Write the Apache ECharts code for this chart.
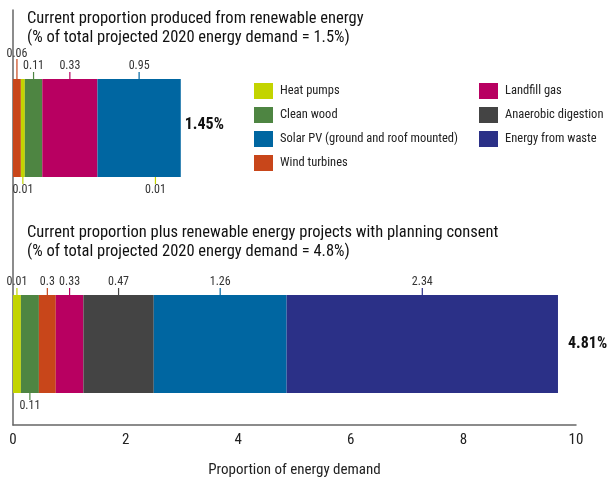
<!DOCTYPE html>
<html>
<head>
<meta charset="utf-8">
<script src="https://cdn.jsdelivr.net/npm/echarts@6/dist/echarts.min.js"></script>
<style>
html,body{margin:0;padding:0;background:#fff;}
#chart{width:607px;height:479px;}
</style>
</head>
<body>
<div id="chart"></div>
<script>
// ---- data ----
const barCategories = ['Current', '', '', '', 'With planning consent', ''];
const bar1Index = 0;
const bar2Index = 4;

// Bar 1: segments left to right, drawn lengths and printed labels
const bar1Sources = ['Wind turbines', 'Heat pumps', 'Clean wood', 'Landfill gas', 'Solar PV (ground and roof mounted)'];
const bar1Lengths = [0.14, 0.07, 0.31, 0.98, 1.48];
const bar1Labels  = ['0.06', '0.01', '0.11', '0.33', '0.95'];
const bar1LabelSide = [1, -1, 1, 1, 1];     // 1 above, -1 below
const bar1LabelRaised = [1, 0, 0, 0, 0];
const bar1ExtraLabel = {text: '0.01', at: 2.53, source: 'Heat pumps'};
const bar1Total = '1.45%';

// Bar 2
const bar2Sources = ['Heat pumps', 'Clean wood', 'Wind turbines', 'Landfill gas', 'Anaerobic digestion', 'Solar PV (ground and roof mounted)', 'Energy from waste'];
const bar2Lengths = [0.14, 0.32, 0.30, 0.49, 1.25, 2.36, 4.82];
const bar2Labels  = ['0.01', '0.11', '0.3', '0.33', '0.47', '1.26', '2.34'];
const bar2LabelSide = [1, -1, 1, 1, 1, 1, 1];
const bar2LabelRaised = [0, 0, 0, 0, 0, 0, 0];
const bar2Total = '4.81%';

const legendLeft = ['Heat pumps', 'Clean wood', 'Solar PV (ground and roof mounted)', 'Wind turbines'];
const legendRight = ['Landfill gas', 'Anaerobic digestion', 'Energy from waste'];

const xTicks = [0, 2, 4, 6, 8, 10];

// ---- styles ----
const COLORS = {
  'Heat pumps': '#c3d400',
  'Clean wood': '#4e8542',
  'Solar PV (ground and roof mounted)': '#0066a1',
  'Wind turbines': '#c8461a',
  'Landfill gas': '#b80061',
  'Anaerobic digestion': '#444444',
  'Energy from waste': '#2b3087'
};
const FONT = "'Liberation Sans Narrow', 'Roboto Condensed', 'DejaVu Sans Condensed', sans-serif";
const BAR_W = 98;

const chart = echarts.init(document.getElementById('chart'), null, {renderer: 'canvas'});

const series = [];
function addBar(sources, lengths, catIdx) {
  sources.forEach((name, i) => {
    const data = barCategories.map((c, k) => k === catIdx ? lengths[i] : '-');
    series.push({
      type: 'bar', name: name, stack: 'total', data: data, clip: false,
      barWidth: BAR_W, itemStyle: {color: COLORS[name]},
      xAxisIndex: 0, yAxisIndex: 0, silent: true, animation: false
    });
  });
}
addBar(bar1Sources, bar1Lengths, bar1Index);
addBar(bar2Sources, bar2Lengths, bar2Index);

// label marks at segment centres
const labelData = [];
function addLabels(lengths, labels, sides, raised, sources, catIdx) {
  let cum = 0;
  lengths.forEach((len, i) => {
    labelData.push({value: [cum + len / 2, catIdx, sides[i], raised[i]], text: labels[i], color: COLORS[sources[i]]});
    cum += len;
  });
  return cum;
}
const end1 = addLabels(bar1Lengths, bar1Labels, bar1LabelSide, bar1LabelRaised, bar1Sources, bar1Index);
const end2 = addLabels(bar2Lengths, bar2Labels, bar2LabelSide, bar2LabelRaised, bar2Sources, bar2Index);
labelData.push({value: [bar1ExtraLabel.at, bar1Index, -1, 0], text: bar1ExtraLabel.text, color: COLORS[bar1ExtraLabel.source]});

series.push({
  type: 'custom', silent: true, animation: false, xAxisIndex: 0, yAxisIndex: 0, clip: false,
  data: labelData,
  encode: {x: 0, y: 1},
  renderItem: function (params, api) {
    const item = labelData[params.dataIndex];
    const p = api.coord([api.value(0), api.value(1)]);
    const s = api.value(2);
    const r = api.value(3);
    const edge = p[1] - s * BAR_W / 2;
    const tick = r ? 20 : 7;
    const textY = edge - s * (r ? 25 : 13);
    return {
      type: 'group',
      children: [
        {type: 'line', shape: {x1: p[0], y1: edge, x2: p[0], y2: edge - s * tick},
         style: {stroke: item.color, lineWidth: 1.2}},
        {type: 'text', x: p[0], y: textY,
         style: {text: item.text, fill: '#333', font: '12px ' + FONT, align: 'center', verticalAlign: 'middle'}}
      ]
    };
  }
});

// totals at bar ends
const totalData = [
  {value: [end1, bar1Index], text: bar1Total, dx: 4, dy: -3},
  {value: [end2, bar2Index], text: bar2Total, dx: 10, dy: 0}
];
series.push({
  type: 'custom', silent: true, animation: false, xAxisIndex: 0, yAxisIndex: 0, clip: false,
  data: totalData, encode: {x: 0, y: 1},
  renderItem: function (params, api) {
    const item = totalData[params.dataIndex];
    const p = api.coord([api.value(0), api.value(1)]);
    return {type: 'text', x: p[0] + item.dx, y: p[1] + item.dy,
      style: {text: item.text, fill: '#111', font: 'bold 16px ' + FONT, align: 'left', verticalAlign: 'middle'}};
  }
});

const legendCommon = {
  orient: 'vertical', top: 78, itemWidth: 19, itemHeight: 16, itemGap: 8,
  icon: 'rect', selectedMode: false,
  textStyle: {fontFamily: FONT, fontSize: 12.5, color: '#222', padding: [0, 0, 0, 2]}
};

chart.setOption({
  backgroundColor: '#fff',
  animation: false,
  title: [
    {text: 'Current proportion produced from renewable energy\n(% of total projected 2020 energy demand = 1.5%)',
     left: 22, top: 4,
     textStyle: {fontFamily: FONT, fontSize: 16.5, fontWeight: 'normal', color: '#111', lineHeight: 19}},
    {text: 'Current proportion plus renewable energy projects with planning consent\n(% of total projected 2020 energy demand = 4.8%)',
     left: 22, top: 218,
     textStyle: {fontFamily: FONT, fontSize: 16.5, fontWeight: 'normal', color: '#111', lineHeight: 19}}
  ],
  legend: [
    Object.assign({}, legendCommon, {left: 249, data: legendLeft}),
    Object.assign({}, legendCommon, {left: 474, data: legendRight})
  ],
  grid: [
    {left: 13, right: 31, top: 101, bottom: 54, containLabel: false, outerBoundsMode: 'none'},
    {left: 13, right: 31, top: 10, bottom: 54, containLabel: false, outerBoundsMode: 'none'}
  ],
  xAxis: [
    {type: 'value', gridIndex: 0, min: xTicks[0], max: xTicks[xTicks.length - 1], interval: 2,
     axisLine: {show: true, lineStyle: {color: '#666', width: 1.5}},
     axisTick: {show: false}, splitLine: {show: false},
     axisLabel: {fontFamily: FONT, fontSize: 15, color: '#222', margin: 8},
     name: 'Proportion of energy demand', nameLocation: 'middle', nameGap: 38,
     nameTextStyle: {fontFamily: FONT, fontSize: 15, color: '#222'}},
    {type: 'value', gridIndex: 1, show: false, min: 0, max: 1}
  ],
  yAxis: [
    {type: 'category', gridIndex: 0, data: barCategories, inverse: true, show: false},
    {type: 'value', gridIndex: 1, min: 0, max: 1,
     axisLine: {show: true, onZero: false, lineStyle: {color: '#666', width: 1.5}},
     axisTick: {show: false}, axisLabel: {show: false}, splitLine: {show: false}}
  ],
  series: series
});
</script>
</body>
</html>
